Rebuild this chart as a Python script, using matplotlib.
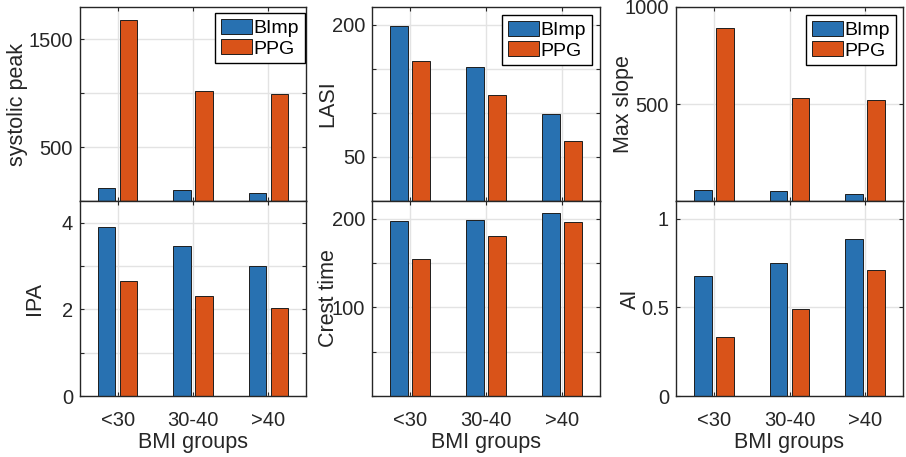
import numpy as np
import matplotlib
matplotlib.use("Agg")
import matplotlib.pyplot as plt

plt.rcParams['font.family'] = ['Liberation Sans', 'DejaVu Sans']

groups = ['<30', '30-40', '>40']
series = ['BImp', 'PPG']

systolic_bimp = [124, 106, 75]
systolic_ppg = [1680, 1016, 991]
lasi_bimp = [198, 152, 99]
lasi_ppg = [159, 120, 68]
slope_bimp = [57, 50, 36]
slope_ppg = [894, 533, 522]
ipa_bimp = [3.89, 3.46, 2.99]
ipa_ppg = [2.65, 2.31, 2.02]
crest_bimp = [198, 199, 207]
crest_ppg = [155, 180, 196]
ai_bimp = [0.675, 0.753, 0.888]
ai_ppg = [0.332, 0.49, 0.71]

c_blue = '#2871b1'
c_orange = '#d95319'

fig = plt.figure(figsize=(9.06, 4.57), dpi=100)

W, H = 906.0, 457.0
cols = [(80, 226), (372, 228), (676, 227)]
rows = [(7, 201), (201, 396)]

# panel setup: (row, col, bimp, ppg, ylabel, ylim, yticks, yticklabels, label x, legend anchor)
panels = [
    (0, 0, systolic_bimp, systolic_ppg, 'systolic peak', (0, 1800),
     [0, 500, 1000, 1500], ['', '500', '', '1500'], -0.252, (0.996, 0.969)),
    (0, 1, lasi_bimp, lasi_ppg, 'LASI', (0, 220),
     [0, 50, 100, 150, 200], ['', '50', '', '', '200'], -0.170, (0.965, 0.959)),
    (0, 2, slope_bimp, slope_ppg, 'Max slope', (0, 1000),
     [0, 500, 1000], ['', '500', '1000'], -0.209, (0.969, 0.959)),
    (1, 0, ipa_bimp, ipa_ppg, 'IPA', (0, 4.5),
     [0, 1, 2, 3, 4], ['0', '', '2', '', '4'], -0.177, None),
    (1, 1, crest_bimp, crest_ppg, 'Crest time', (0, 220),
     [0, 50, 100, 150, 200], ['', '', '100', '', '200'], -0.168, None),
    (1, 2, ai_bimp, ai_ppg, 'AI', (0, 1.1),
     [0, 0.5, 1], ['0', '0.5', '1'], -0.176, None),
]

x = np.arange(1, len(groups) + 1)
bw = 0.23
off = 0.145

for r, c, vb, vp, lab, ylim, yt, ytl, lx, leg in panels:
    left, width = cols[c]
    top, bottom = rows[r]
    ax = fig.add_axes([left / W, 1 - bottom / H, width / W, (bottom - top) / H])
    ax.set_axisbelow(True)
    ax.bar(x - off, vb, bw, color=c_blue, edgecolor='#1e1e1e', linewidth=0.7, label=series[0])
    ax.bar(x + off, vp, bw, color=c_orange, edgecolor='#1e1e1e', linewidth=0.7, label=series[1])
    ax.set_xlim(0.5, 3.5)
    ax.set_ylim(*ylim)
    ax.set_xticks(x)
    if r == 1:
        ax.set_xticklabels(groups)
        ax.set_xlabel('BMI groups', fontsize=15.5, color='#262626', labelpad=1.5)
    else:
        ax.set_xticklabels([])
    ax.set_yticks(yt)
    ax.set_yticklabels(ytl)
    ax.grid(True, color='#e3e3e3', linewidth=1.0)
    ax.tick_params(direction='in', top=True, right=True, length=3, width=0.8,
                   labelsize=14.5, labelcolor='#262626', color='#262626')
    ax.tick_params(axis='x', pad=11)
    ax.tick_params(axis='y', pad=5)
    for s in ax.spines.values():
        s.set_color('#262626')
        s.set_linewidth(1.0)
    ax.set_ylabel(lab, fontsize=15.5, color='#262626', va='baseline')
    ax.yaxis.set_label_coords(lx, 0.5)
    if leg is not None:
        lg = ax.legend(loc='upper right', bbox_to_anchor=leg, borderaxespad=0, fontsize=14,
                       fancybox=False, framealpha=1, edgecolor='black',
                       handlelength=1.6, handleheight=0.8, handletextpad=0.1,
                       borderpad=0.3, labelspacing=0.12)
        lg.get_frame().set_linewidth(1.0)

plt.savefig('out.png', dpi=100)
